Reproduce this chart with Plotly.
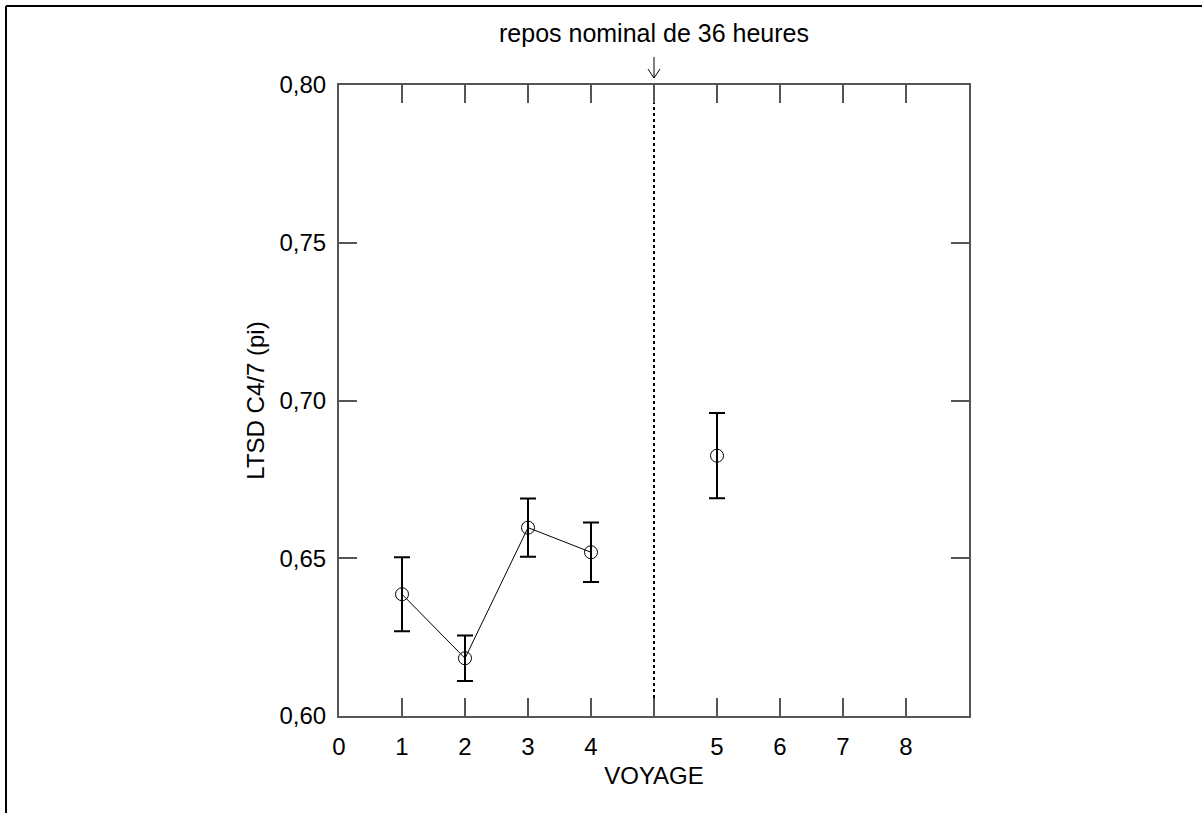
import plotly.graph_objects as go

# ---- data ----
voyages = [1, 2, 3, 4, 5]
ltsd = [0.6386, 0.6183, 0.6597, 0.6519, 0.6825]
err = [0.0117, 0.0072, 0.0092, 0.0094, 0.0135]
rest_after_voyage = 4  # nominal 36-hour rest inserted after voyage 4
x_tick_vals = [0, 1, 2, 3, 4, 5, 6, 7, 8, 9, 10]
x_tick_text = ["0", "1", "2", "3", "4", "", "5", "6", "7", "8", ""]
y_tick_vals = [0.60, 0.65, 0.70, 0.75, 0.80]
rest_label = "repos nominal de 36 heures"

# axis position of each voyage (a gap slot for the rest period)
xpos = [v + (1 if v > rest_after_voyage else 0) for v in voyages]
rest_x = rest_after_voyage + 1

before = [i for i, v in enumerate(voyages) if v <= rest_after_voyage]
after = [i for i, v in enumerate(voyages) if v > rest_after_voyage]

FONT = "Arial, Liberation Sans, sans-serif"
FS = 24

fig = go.Figure()
fig.add_trace(go.Scatter(
    x=[xpos[i] for i in before], y=[ltsd[i] for i in before],
    error_y=dict(type="data", array=[err[i] for i in before], color="black", thickness=2, width=8),
    mode="lines+markers",
    line=dict(color="black", width=1),
    marker=dict(symbol="circle-open", size=13, color="black", line=dict(width=1)),
    showlegend=False,
))
fig.add_trace(go.Scatter(
    x=[xpos[i] for i in after], y=[ltsd[i] for i in after],
    error_y=dict(type="data", array=[err[i] for i in after], color="black", thickness=2, width=8),
    mode="markers",
    marker=dict(symbol="circle-open", size=13, color="black", line=dict(width=1)),
    showlegend=False,
))

# dotted rest line
fig.add_shape(type="line", x0=rest_x, x1=rest_x, y0=y_tick_vals[0], y1=y_tick_vals[-1],
              xref="x", yref="y", line=dict(color="black", width=2, dash="dot"), layer="below")

# page frame (top and left)
L, R, T, B = 339, 969, 85, 716
W, H = 1202, 813
def px(xp):
    return (xp - L) / (R - L)
def py(yp):
    return (B - yp) / (B - T)
fig.add_shape(type="line", xref="paper", yref="paper", x0=px(6), x1=px(1202), y0=py(6), y1=py(6),
              line=dict(color="black", width=2))
fig.add_shape(type="line", xref="paper", yref="paper", x0=px(6), x1=px(6), y0=py(6), y1=py(813),
              line=dict(color="black", width=2))

fig.add_annotation(x=rest_x, xref="x", y=py(33), yref="paper", yanchor="middle", text=rest_label,
                   showarrow=False, font=dict(family=FONT, size=25, color="black"))
# open arrow pointing down to the rest line
dx = 6 / (R - L) * 10
fig.add_shape(type="path", xref="x", yref="paper",
              path=(f"M {rest_x},{py(57)} L {rest_x},{py(78)} "
                    f"M {rest_x - dx},{py(69)} L {rest_x},{py(78)} L {rest_x + dx},{py(69)}"),
              line=dict(color="black", width=1))

axis_common = dict(showgrid=False, zeroline=False, showline=True, linecolor="#555", linewidth=2,
                   mirror="ticks", ticks="inside", ticklen=18, tickwidth=1.5, tickcolor="#555",
                   tickfont=dict(family=FONT, size=FS, color="black"))
fig.update_xaxes(range=[0, 10], tickmode="array", tickvals=x_tick_vals, ticktext=x_tick_text,
                 ticklabelstandoff=8,
                 title=dict(text="VOYAGE", font=dict(family=FONT, size=FS, color="black"), standoff=8),
                 **axis_common)
fig.update_yaxes(range=[0.60, 0.80], tickmode="array", tickvals=y_tick_vals, tickformat=".2f",
                 ticklabelstandoff=6,
                 title=dict(text="LTSD C4/7 (pi)", font=dict(family=FONT, size=FS, color="black"), standoff=8),
                 **axis_common)

fig.update_layout(
    width=W, height=H, separators=", ",
    margin=dict(l=L, r=W - R, t=T, b=H - B, autoexpand=False),
    plot_bgcolor="white", paper_bgcolor="white",
    font=dict(family=FONT, color="black"),
)
fig.write_html("out.html")
